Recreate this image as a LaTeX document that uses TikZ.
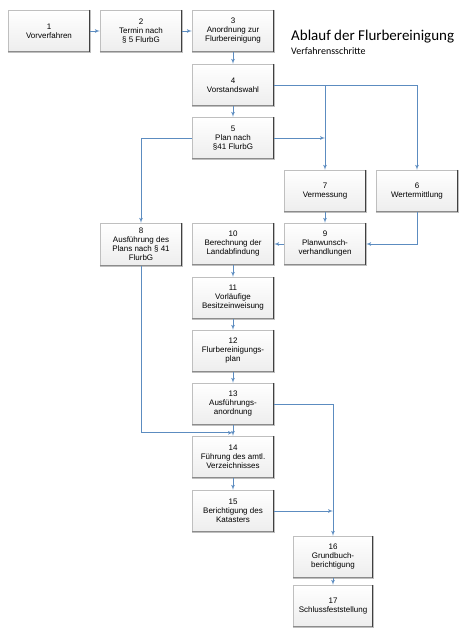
\documentclass[tikz,border=0pt]{standalone}
\usepackage{fontspec}
\setmainfont{Liberation Sans}
\newfontfamily\titlefont{Carlito}
\usetikzlibrary{arrows}
\definecolor{linkblue}{RGB}{92,140,192}

\begin{document}
\begin{tikzpicture}[x=1pt, y=-1pt,
	stepbox/.style={draw=black!25, top color=white, bottom color=black!7, minimum width=82pt, minimum height=42pt, inner sep=1pt, align=center, font=\fontsize{8}{9}\selectfont,
		append after command={
			([yshift=.6pt]\tikzlastnode.south west) edge[draw=black!45, line width=1.2pt] ([yshift=.6pt]\tikzlastnode.south east)
			([xshift=-.8pt]\tikzlastnode.north east) edge[draw=black!75, line width=1.6pt] ([xshift=-.8pt]\tikzlastnode.south east)}},
	link/.style={draw=linkblue, line width=.7pt, -latex'}]
	\useasboundingbox (0,0) rectangle (474,632);
	% Verfahrensschritte
	\node[stepbox] (s1) at (49,31) {1\\Vorverfahren};
	\node[stepbox] (s2) at (141,31) {2\\Termin nach\\§ 5 FlurbG};
	\node[stepbox] (s3) at (233,31) {3\\Anordnung zur\\Flurbereinigung};
	\node[stepbox] (s4) at (233,85) {4\\Vorstandswahl};
	\node[stepbox] (s5) at (233,138) {5\\Plan nach\\§41 FlurbG};
	\node[stepbox] (s7) at (325,191) {7\\Vermessung};
	\node[stepbox] (s6) at (417,191) {6\\Wertermittlung};
	\node[stepbox, minimum height=43pt] (s8) at (141,244.5) {8\\Ausführung des\\Plans nach § 41\\FlurbG};
	\node[stepbox] (s10) at (233,244) {10\\Berechnung der\\Landabfindung};
	\node[stepbox] (s9) at (325,244) {9\\Planwunsch-\\verhandlungen};
	\node[stepbox] (s11) at (233,298) {11\\Vorläufige\\Besitzeinweisung};
	\node[stepbox] (s12) at (233,351) {12\\Flurbereinigungs-\\plan};
	\node[stepbox] (s13) at (233,404) {13\\Ausführungs-\\anordnung};
	\node[stepbox] (s14) at (233,457) {14\\Führung des amtl.\\Verzeichnisses};
	\node[stepbox] (s15) at (233,511) {15\\Berichtigung des\\Katasters};
	\node[stepbox, minimum width=80pt] (s16) at (333,557) {16\\Grundbuch-\\berichtigung};
	\node[stepbox, minimum width=80pt] (s17) at (333,606) {17\\Schlussfeststellung};
	% Titel
	\node[anchor=base west, inner sep=0pt, font=\titlefont\fontsize{15}{18}\selectfont] (title) at (291,40) {Ablauf der Flurbereinigung};
	\node[anchor=base west, inner sep=0pt, font=\titlefont\fontsize{10}{12}\selectfont] (subtitle) at (291,54) {Verfahrensschritte};
	% Verbindungen
	\draw[link] (s1) -- (s2);
	\draw[link] (s2) -- (s3);
	\draw[link] (s3) -- (s4);
	\draw[link] (s4) -- (s5);
	\draw[link] (s4.east) -| (s6);
	\draw[link] (s7 |- s4.east) -- (s7);
	\draw[link] (s5.east) -- (s5 -| s7);
	\draw[link] (s5.west) -| (s8);
	\draw[link] (s7) -- (s9);
	\draw[link] (s6) |- (s9);
	\draw[link] (s9) -- (s10);
	\draw[link] (s10) -- (s11);
	\draw[link] (s11) -- (s12);
	\draw[link] (s12) -- (s13);
	\draw[link] (s13) -- (s14);
	\draw[link] (s8) |- ([yshift=3pt]s14.north);
	\draw[link] (s14) -- (s15);
	\draw[link] (s13) -| (s16);
	\draw[link] (s15) -- (s15 -| s16);
	\draw[link] (s16) -- (s17);
\end{tikzpicture}
\end{document}
